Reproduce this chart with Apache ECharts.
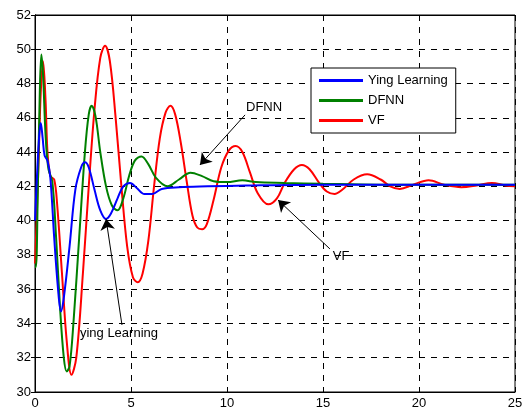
<!DOCTYPE html>
<html><head><meta charset="utf-8">
<script src="https://cdn.jsdelivr.net/npm/echarts@6/dist/echarts.min.js"></script>
<style>html,body{margin:0;padding:0;background:#fff}#c{width:526px;height:410px}</style>
</head><body><div id="c"></div>
<script>
const xTicks = [0, 5, 10, 15, 20, 25];
const yTicks = [30, 32, 34, 36, 38, 40, 42, 44, 46, 48, 50, 52];
const seriesNames = ['Ying Learning', 'DFNN', 'VF'];
const yingLearning = [[0,40],[0.1,42.5],[0.22,45],[0.3,45.7],[0.4,44.8],[0.5,43.8],[0.65,43.5],[0.8,42.5],[1.0,39],[1.2,36],[1.35,34.7],[1.5,35.5],[1.8,38.5],[2.1,41.8],[2.4,43.1],[2.6,43.4],[2.8,43.1],[3.1,41.8],[3.4,40.6],[3.7,40.1],[3.95,40.4],[4.3,41.3],[4.6,42.0],[4.95,42.2],[5.3,41.9],[5.7,41.55],[6.1,41.55],[6.6,41.85],[7.5,41.95],[9,42.0],[11,42.05],[15,42.1],[25,42.1]];
const dfnn = [[0,37.3],[0.05,37.3],[0.15,42],[0.25,47.5],[0.33,49.7],[0.42,48.5],[0.55,45],[0.7,43],[0.9,42.3],[1.1,39],[1.3,35],[1.5,32],[1.65,31.2],[1.8,31.5],[2.0,34],[2.3,39],[2.6,44],[2.8,46.2],[2.95,46.7],[3.15,46.1],[3.4,44],[3.7,42],[4.0,40.9],[4.3,40.6],[4.6,41.3],[4.9,42.6],[5.2,43.5],[5.55,43.75],[5.9,43.3],[6.3,42.5],[6.9,42.0],[7.5,42.4],[8.1,42.8],[8.7,42.6],[9.3,42.3],[10,42.25],[10.8,42.35],[11.5,42.25],[13,42.2],[15,42.15],[18,42.1],[25,42.1]];
const vf = [[0,37.5],[0.1,40.5],[0.2,44],[0.3,47.5],[0.42,49.3],[0.55,47],[0.65,44],[0.8,42.6],[1.0,42.4],[1.15,41],[1.4,37],[1.65,33],[1.9,31.0],[2.15,32],[2.5,37],[2.8,42],[3.1,46.5],[3.4,49.5],[3.65,50.2],[3.9,49.3],[4.2,46],[4.5,42],[4.8,38.5],[5.1,36.7],[5.35,36.4],[5.6,36.9],[5.9,38.8],[6.2,42],[6.5,44.8],[6.8,46.3],[7.05,46.7],[7.3,46.2],[7.6,44.5],[7.9,42.3],[8.2,40.3],[8.45,39.6],[8.7,39.5],[8.95,39.8],[9.3,41.2],[9.7,43.1],[10.1,44.1],[10.45,44.35],[10.8,44.0],[11.2,42.8],[11.6,41.6],[12.15,40.95],[12.6,41.3],[13.0,42.2],[13.5,43.0],[13.9,43.25],[14.3,43.0],[14.8,42.2],[15.2,41.7],[15.6,41.55],[16.0,41.8],[16.6,42.4],[17.3,42.7],[18.0,42.4],[18.5,42.0],[19.0,41.85],[19.7,42.1],[20.5,42.35],[21.3,42.1],[22.2,41.95],[23.0,42.05],[23.8,42.2],[24.5,42.05],[25,42.0]];
const annotations = [
  {text:'DFNN', at:[11.93,46.63], align:'center', from:[10.94,46.17], to:[8.59,43.25]},
  {text:'VF', at:[15.94,37.94], align:'center', from:[15.36,38.35], to:[12.66,41.2]},
  {text:'ying Learning', at:[2.34,33.39], align:'left', from:[4.53,33.91], to:[3.70,40.1]}
];
const FONT = 'Liberation Sans, Arial, sans-serif';
const chart = echarts.init(document.getElementById('c'), null, {renderer:'canvas'});
const axisCommon = {
  axisLine:{show:true, lineStyle:{color:'#000', width:1}},
  axisTick:{show:true, inside:true, length:4, lineStyle:{color:'#000'}},
  splitLine:{show:false}
};
chart.setOption({
  animation:false,
  backgroundColor:'#fff',
  grid:{left:35, top:15, right:11, bottom:18, show:true, borderColor:'#000', borderWidth:1, backgroundColor:'transparent'},
  xAxis:[{type:'value', min:0, max:25, interval:5, position:'bottom',
    axisLabel:{color:'#000', fontSize:13, fontFamily:FONT, margin:5, customValues:xTicks},
    ...axisCommon,
    splitLine:{show:true, lineStyle:{color:'#000', type:[6,6], width:1}}
  },{type:'value', min:0, max:25, interval:5, position:'top', axisLabel:{show:false}, ...axisCommon}],
  yAxis:[{type:'value', min:30, max:52, interval:2, position:'left',
    axisLabel:{color:'#000', fontSize:13, fontFamily:FONT, margin:4},
    ...axisCommon,
    splitLine:{show:true, lineStyle:{color:'#000', type:[6,6], width:1}}
  },{type:'value', min:30, max:52, interval:2, position:'right', axisLabel:{show:false}, ...axisCommon}],
  legend:{orient:'vertical', left:311, top:68,
    borderColor:'#000', borderWidth:1, backgroundColor:'#fff', padding:[5,8,5,8],
    icon:'rect', itemWidth:44, itemHeight:3, itemGap:5,
    textStyle:{color:'#000', fontSize:13, fontFamily:FONT, lineHeight:15},
    data:seriesNames},
  series:[
    {name:seriesNames[0], type:'line', data:yingLearning, smooth:0.35, symbol:'none', lineStyle:{color:'#0000ff', width:2}, itemStyle:{color:'#0000ff'}, z:3},
    {name:seriesNames[1], type:'line', data:dfnn, smooth:0.35, symbol:'none', lineStyle:{color:'#008000', width:2}, itemStyle:{color:'#008000'}, z:2},
    {name:seriesNames[2], type:'line', data:vf, smooth:0.35, symbol:'none', lineStyle:{color:'#ff0000', width:2}, itemStyle:{color:'#ff0000'}, z:1},
    {name:'arrows', type:'line', data:[], silent:true, z:5,
      markLine:{silent:true, animation:false, symbol:['none','arrow'], symbolSize:11,
        itemStyle:{color:'#000'},
        lineStyle:{color:'#000', width:1, type:'solid'}, label:{show:false},
        data:annotations.map(a=>[{coord:a.from},{coord:a.to}])}}
  ]
});
const g = annotations.map(a=>{
  const p = chart.convertToPixel({gridIndex:0}, a.at);
  return {type:'text', x:p[0], y:p[1], z:10, style:{text:a.text, fill:'#000', font:'13px '+FONT, align:a.align, verticalAlign:'middle'}};
});
chart.setOption({graphic:g});
</script></body></html>
